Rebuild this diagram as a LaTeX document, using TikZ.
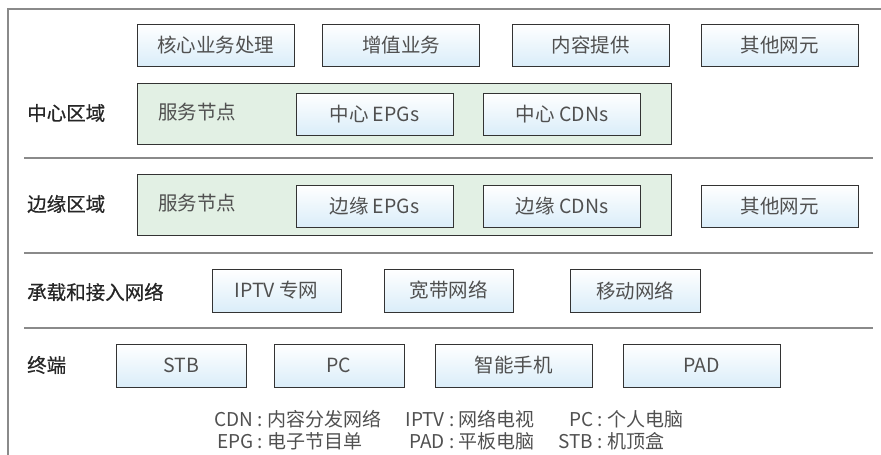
\documentclass[tikz,border=0pt]{standalone}
\usepackage{fontspec}
\setmainfont{Noto Sans CJK SC}
\newfontfamily\labelfont[FakeBold=0.6]{Noto Sans CJK SC}
\usepackage{tikz}
\usetikzlibrary{positioning}
\definecolor{framegray}{RGB}{138,138,138}
\definecolor{boxblue}{RGB}{218,237,249}
\definecolor{zonegreen}{RGB}{226,240,228}
\definecolor{edgedark}{RGB}{51,51,51}
\definecolor{textgray}{RGB}{80,80,80}

\begin{document}
\begin{tikzpicture}[
    x=1pt, y=-1pt,
    unit/.style={rectangle, draw=edgedark, line width=0.8pt, top color=white, bottom color=boxblue, minimum width=157pt, minimum height=42pt, inner sep=0pt, text=textgray, font=\fontsize{19.5}{21}\selectfont},
    zone/.style={rectangle, draw=edgedark, line width=0.8pt, fill=zonegreen, minimum width=534pt, minimum height=61pt, inner sep=0pt},
    rowlabel/.style={anchor=west, inner sep=0pt, text=black!85, font=\fontsize{19.5}{21}\selectfont\labelfont},
    svclabel/.style={anchor=west, inner sep=0pt, text=textgray, font=\fontsize{19.5}{21}\selectfont},
    sep/.style={draw=framegray, line width=1.5pt}
]
\useasboundingbox (0,0) rectangle (881,455);

% frame and separators
\draw[draw=framegray, line width=2pt] (8,455) -- (8,9) -- (881,9);
\draw[sep] (24,158) -- (873,158);
\draw[sep] (24,253) -- (873,253);
\draw[sep] (24,328) -- (873,328);

% top row
\node[unit] (core) at (215.5,45) {核心业务处理};
\node[unit] (value) at (401,45) {增值业务};
\node[unit] (content) at (590.5,45) {内容提供};
\node[unit] (other1) at (779.5,45) {其他网元};

% center zone
\node[rowlabel] (centerlab) at (27,113) {中心区域};
\node[zone] (centerzone) at (404,113.5) {};
\node[svclabel] (centersvc) at (158,112) {服务节点};
\node[unit] (cepg) at (374.5,114) {中心 EPGs};
\node[unit] (ccdn) at (562,114) {中心 CDNs};

% edge zone
\node[rowlabel] (edgelab) at (27,204) {边缘区域};
\node[zone] (edgezone) at (404,204.5) {};
\node[svclabel] (edgesvc) at (158,203) {服务节点};
\node[unit] (eepg) at (374.5,206) {边缘 EPGs};
\node[unit] (ecdn) at (562,206) {边缘 CDNs};
\node[unit] (other2) at (779.5,206) {其他网元};

% bearer and access network
\node[rowlabel] (netlab) at (27,292) {承载和接入网络};
\node[unit, minimum width=129pt, minimum height=43pt] (iptv) at (276.5,290.5) {IPTV 专网};
\node[unit, minimum width=129pt, minimum height=43pt] (broad) at (448.5,290.5) {宽带网络};
\node[unit, minimum width=130pt, minimum height=43pt] (mobile) at (635,290.5) {移动网络};

% terminals
\node[rowlabel] (termlab) at (27,365) {终端};
\node[unit, minimum width=130pt, minimum height=43pt] (stb) at (181,365.5) {STB};
\node[unit, minimum width=130pt, minimum height=43pt] (pc) at (339,365.5) {PC};
\node[unit, minimum height=43pt] (phone) at (513.5,365.5) {智能手机};
\node[unit, minimum height=43pt] (pad) at (701.5,365.5) {PAD};

% legend
\node[anchor=north, inner sep=0pt, text=textgray, font=\fontsize{19}{20}\selectfont] (legend) at (449,410) {%
  \begin{tabular}{@{}r@{ : }l@{\hspace{24pt}}r@{ : }l@{\hspace{24pt}}r@{ : }l@{}}
  CDN & 内容分发网络 & IPTV & 网络电视 & PC & 个人电脑\\
  EPG & 电子节目单 & PAD & 平板电脑 & STB & 机顶盒
  \end{tabular}};
\end{tikzpicture}
\end{document}
